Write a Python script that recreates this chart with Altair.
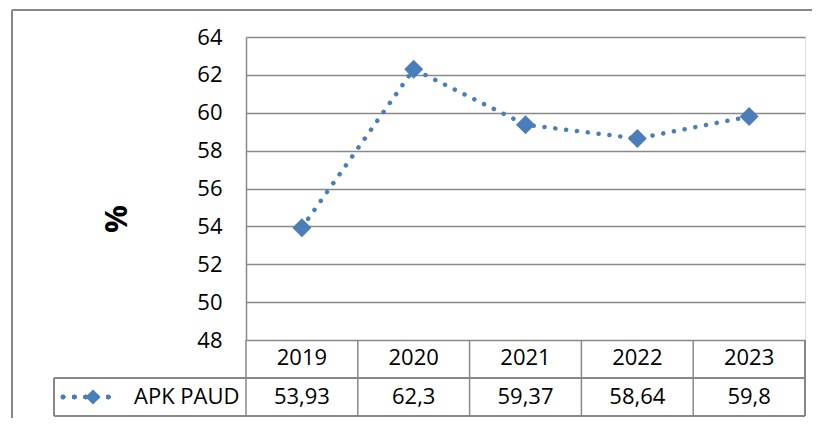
import altair as alt
import pandas as pd

years = ["2019", "2020", "2021", "2022", "2023"]
values = [53.93, 62.3, 59.37, 58.64, 59.8]
series_name = "APK PAUD"
y_ticks = [48, 50, 52, 54, 56, 58, 60, 62, 64]

df = pd.DataFrame({
    "year": years,
    "value": values,
    "label": [str(v).replace(".", ",") for v in values],
})

W, H = 559, 303
FONT = "Open Sans"
FS = 22
BLUE = "#4A7EBB"
GRAY = "#898989"

xs = alt.Scale(domain=years, paddingInner=0, paddingOuter=0)
ys = alt.Scale(domain=[48, 64], nice=False, zero=False)

x_axis = alt.Axis(title=None, orient="bottom", ticks=False, domain=False,
                  labelAngle=0, labelFont=FONT, labelFontSize=FS,
                  labelColor="#000000", labelPadding=17, grid=False,
                  labelBaseline="middle", labelAlign="center", labelOverlap=False)
y_axis = alt.Axis(title=None, values=y_ticks, tickCount=9, ticks=False, domain=True,
                  domainColor=GRAY, domainWidth=1.5,
                  grid=True, gridColor=GRAY, gridWidth=1.5,
                  labelFont=FONT, labelFontSize=FS, labelColor="#000000",
                  labelPadding=24, labelOverlap=False, labelBound=False,
                  labelFlush=False)

base = alt.Chart(df)
X = alt.X("year:N", scale=xs, sort=years, axis=x_axis)
Y = alt.Y("value:Q", scale=ys, axis=y_axis)

line = base.mark_line(
    color=BLUE, strokeWidth=4.5, strokeDash=[0.1, 10.8], strokeCap="round"
).encode(x=X, y=Y)

points = base.mark_point(
    shape="diamond", filled=True, color=BLUE, size=361, opacity=1
).encode(x=X, y=Y)

# table: vertical separators at band edges (shifted half a band left)
vsep = base.mark_rule(color=GRAY, strokeWidth=1.5, xOffset=-W / len(years) / 2).encode(
    x=X,
    y=alt.value(H),
    y2=alt.value(H + 76),
)
vright = base.mark_rule(color=GRAY, strokeWidth=1.5).encode(
    x=alt.value(W), y=alt.value(H), y2=alt.value(H + 76)
)
vleft = base.mark_rule(color=GRAY, strokeWidth=1.5).encode(
    x=alt.value(-192), y=alt.value(H + 38), y2=alt.value(H + 76)
)
hmid = base.mark_rule(color=GRAY, strokeWidth=1.5).encode(
    x=alt.value(-192), x2=alt.value(W), y=alt.value(H + 38)
)
hbot = base.mark_rule(color=GRAY, strokeWidth=1.5).encode(
    x=alt.value(-192), x2=alt.value(W), y=alt.value(H + 76)
)

vals = base.mark_text(font=FONT, fontSize=FS, color="#000000", baseline="middle").encode(
    x=X,
    y=alt.value(H + 57),
    text="label:N",
)

# legend sample in table
leg_line = base.mark_rule(
    color=BLUE, strokeWidth=4.5, strokeDash=[0.1, 11.2], strokeCap="round"
).encode(x=alt.value(-183), x2=alt.value(-127), y=alt.value(H + 57))
leg_pt = alt.Chart(pd.DataFrame({"n": [series_name]})).mark_point(
    shape="diamond", filled=True, color=BLUE, size=230, opacity=1
).encode(x=alt.value(-153), y=alt.value(H + 57))
leg_txt = alt.Chart(pd.DataFrame({"n": [series_name]})).mark_text(
    font=FONT, fontSize=FS, color="#000000", align="left", baseline="middle"
).encode(x=alt.value(-112), y=alt.value(H + 57), text="n:N")

pct = alt.Chart(pd.DataFrame({"t": ["%"]})).mark_text(
    font=FONT, fontSize=31, fontWeight="bold", color="#000000", angle=270,
    align="center", baseline="middle"
).encode(x=alt.value(-128), y=alt.value(182), text="t:N")

# outer chart border
btop = base.mark_rule(color=GRAY, strokeWidth=1.5).encode(
    x=alt.value(-234), x2=alt.value(580), y=alt.value(-27)
)
bleft = base.mark_rule(color=GRAY, strokeWidth=1.5).encode(
    x=alt.value(-234), y=alt.value(-27), y2=alt.value(400)
)

chart = alt.layer(
    line, points, vsep, vals, btop, bleft, vright, vleft, hmid, hbot,
    leg_line, leg_pt, leg_txt, pct,
).properties(
    width=W, height=H,
    autosize=alt.AutoSizeParams(type="none"),
    padding={"left": 238, "top": 29, "right": 7, "bottom": 78},
).configure_view(stroke=None).configure(background="white")

chart.save("out.html", embed_options={"renderer": "svg", "actions": False})
